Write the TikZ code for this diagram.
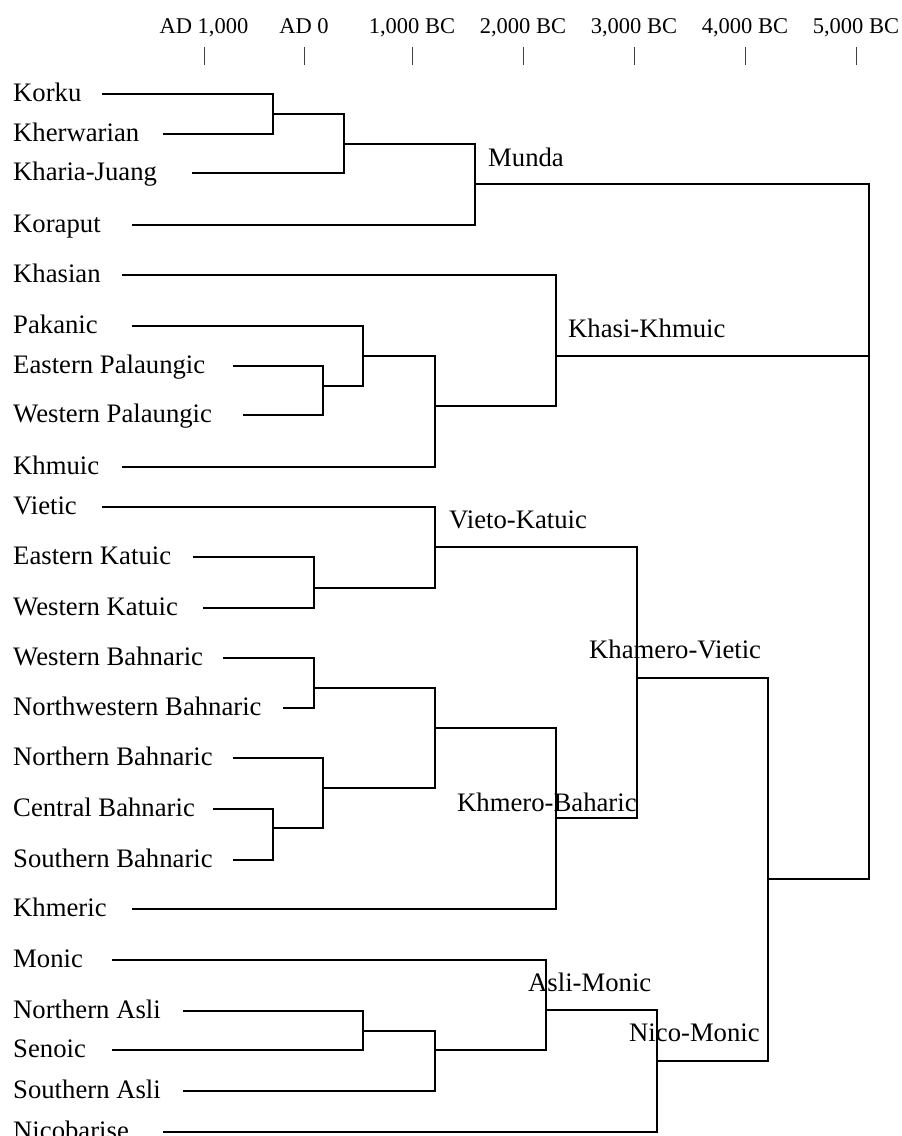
\documentclass[tikz,border=0pt]{standalone}
\usepackage{fontspec}
\setmainfont{Liberation Serif}
\begin{document}
\begin{tikzpicture}[x=1pt,y=-1pt,
  leaf/.style={anchor=base west,inner sep=0pt,font=\fontsize{26.7}{30}\selectfont},
  clade/.style={anchor=base west,inner sep=0pt,font=\fontsize{26.7}{30}\selectfont},
  era/.style={anchor=base,inner sep=0pt,font=\fontsize{22.5}{26}\selectfont},
  tree/.style={line width=2pt,line join=miter},
  tick/.style={line width=1pt,black!75}]
\useasboundingbox (0,0) rectangle (902,1136);
% time axis
\foreach \x/\t/\n in {204/{AD 1,000}/a1,304/{AD 0}/a2,412/{1,000 BC}/a3,523/{2,000 BC}/a4,634/{3,000 BC}/a5,745/{4,000 BC}/a6,856/{5,000 BC}/a7}{
  \node[era] (\n) at (\x,33) {\t};
  \coordinate (\n t) at (\x,47);
  \coordinate (\n b) at (\x,65);
  \draw[tick] (\n t) -- (\n b);
}
% leaves: name / y / line start x / text
\foreach \n/\y/\s/\t in {
  korku/94/102/Korku,
  kherw/134/163/Kherwarian,
  kharia/173/192/Kharia-Juang,
  koraput/225/132/Koraput,
  khasian/275/122/Khasian,
  pakanic/326/132/Pakanic,
  epal/366/233/Eastern Palaungic,
  wpal/415/243/Western Palaungic,
  khmuic/467/122/Khmuic,
  vietic/507/102/Vietic,
  ekat/557/193/Eastern Katuic,
  wkat/608/203/Western Katuic,
  wbah/658/223/Western Bahnaric,
  nwbah/708/283/Northwestern Bahnaric,
  nbah/758/233/Northern Bahnaric,
  cbah/809/213/Central Bahnaric,
  sbah/860/233/Southern Bahnaric,
  khmeric/909/132/Khmeric,
  monic/960/112/Monic,
  nasli/1011/183/Northern Asli,
  senoic/1050/112/Senoic,
  sasli/1091/183/Southern Asli,
  nicob/1132/163/Nicobarise}{
  \node[leaf] (\n) at (13,\y+7) {\t};
  \coordinate (\n s) at (\s,\y);
}
% junction points (x of the vertical bar, y of the outgoing branch)
\coordinate (j1) at (273,114);
\coordinate (j2) at (344,144);
\coordinate (munda) at (475,184);
\coordinate (j3) at (323,386);
\coordinate (j4) at (363,356);
\coordinate (j5) at (435,406);
\coordinate (khk) at (556,356);
\coordinate (j6) at (314,588);
\coordinate (vk) at (435,547);
\coordinate (j7) at (314,688);
\coordinate (j8) at (273,828);
\coordinate (j9) at (323,788);
\coordinate (j10) at (435,728);
\coordinate (kb) at (556,818);
\coordinate (kv) at (637,678);
\coordinate (j11) at (363,1031);
\coordinate (j12) at (435,1050);
\coordinate (am) at (546,1010);
\coordinate (nm) at (657,1061);
\coordinate (j13) at (768,879);
\coordinate (root) at (869,356);
% branches
\draw[tree] (korkus) -| (j1) |- (kherws);
\draw[tree] (j1) -| (j2) |- (kharias);
\draw[tree] (j2) -| (munda) |- (koraputs);
\draw[tree] (epals) -| (j3) |- (wpals);
\draw[tree] (pakanics) -| (j4) |- (j3);
\draw[tree] (j4) -| (j5) |- (khmuics);
\draw[tree] (khasians) -| (khk) |- (j5);
\draw[tree] (ekats) -| (j6) |- (wkats);
\draw[tree] (vietics) -| (vk) |- (j6);
\draw[tree] (wbahs) -| (j7) |- (nwbahs);
\draw[tree] (cbahs) -| (j8) |- (sbahs);
\draw[tree] (nbahs) -| (j9) |- (j8);
\draw[tree] (j7) -| (j10) |- (j9);
\draw[tree] (j10) -| (kb) |- (khmerics);
\draw[tree] (vk) -| (kv) |- (kb);
\draw[tree] (naslis) -| (j11) |- (senoics);
\draw[tree] (j11) -| (j12) |- (saslis);
\draw[tree] (monics) -| (am) |- (j12);
\draw[tree] (am) -| (nm) |- (nicobs);
\draw[tree] (kv) -| (j13) |- (nm);
\draw[tree] (munda) -| (root) |- (j13);
\draw[tree] (khk) -- (root);
% clade labels
\node[clade] (lmunda) at (488,166) {Munda};
\node[clade] (lkhk) at (568,337) {Khasi-Khmuic};
\node[clade] (lvk) at (449,528) {Vieto-Katuic};
\node[clade] (lkv) at (589,658) {Khamero-Vietic};
\node[clade] (lkb) at (457,811) {Khmero-Baharic};
\node[clade] (lam) at (528,991) {Asli-Monic};
\node[clade] (lnm) at (629,1041) {Nico-Monic};
\end{tikzpicture}
\end{document}
